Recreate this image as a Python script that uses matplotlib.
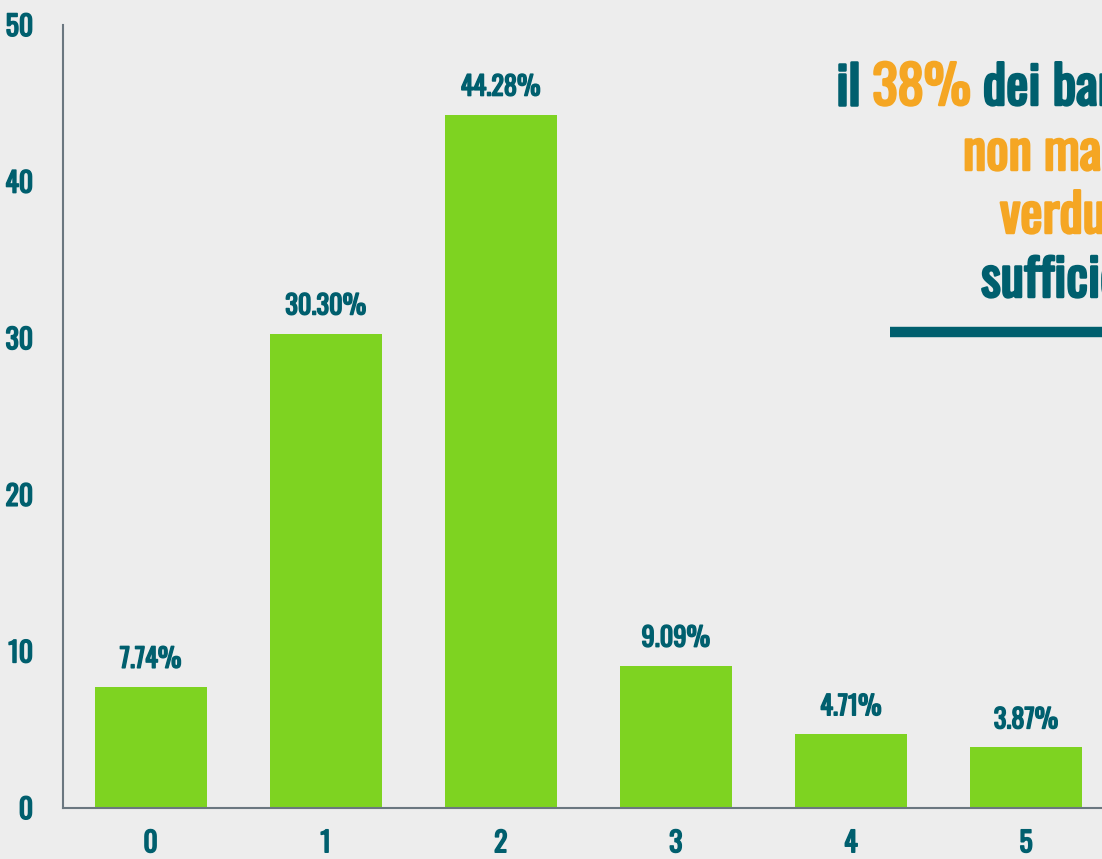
import matplotlib
matplotlib.use("Agg")
import matplotlib.pyplot as plt
import matplotlib.patheffects as pe

categories = ["0", "1", "2", "3", "4", "5"]
values = [7.74, 30.30, 44.28, 9.09, 4.71, 3.87]
labels = ["7.74%", "30.30%", "44.28%", "9.09%", "4.71%", "3.87%"]
yticks = [0, 10, 20, 30, 40, 50]

TEAL = "#005f6e"
ORANGE = "#f5a623"
GREEN = "#7ed321"
BG = "#ededed"
FONT = ["Oswald", "DejaVu Sans"]


def bold(color, lw=1.1):
    return [pe.withStroke(linewidth=lw, foreground=color)]


W, H = 1102, 859
fig = plt.figure(figsize=(W / 100, H / 100), dpi=100, facecolor=BG)

left, right = 63, 1113.5
bottom, top = 808, 25
ax = fig.add_axes([left / W, (H - bottom) / H, (right - left) / W, (bottom - top) / H])
ax.set_facecolor("none")

x = list(range(len(categories)))
ax.bar(x, values, width=0.64, color=GREEN, zorder=2)
ax.set_xlim(-0.5, 5.5)
ax.set_ylim(0, 50)

for xi, v, lab in zip(x, values, labels):
    ax.annotate(lab, (xi, v), xytext=(0, 19), textcoords="offset pixels",
                ha="center", va="baseline", color=TEAL, fontsize=19,
                family=FONT, path_effects=bold(TEAL))

ax.set_xticks(x)
ax.set_xticklabels(categories)
ax.set_yticks(yticks)
ax.set_yticklabels([str(t) for t in yticks])
ax.tick_params(axis="both", length=0, colors=TEAL, labelsize=20)
ax.tick_params(axis="x", pad=16)
ax.tick_params(axis="y", pad=21.5)
for lbl in ax.get_xticklabels() + ax.get_yticklabels():
    lbl.set_family(FONT)
    lbl.set_color(TEAL)
    lbl.set_path_effects(bold(TEAL))

for s in ["top", "right"]:
    ax.spines[s].set_visible(False)
for s in ["left", "bottom"]:
    ax.spines[s].set_color("#6b7780")
    ax.spines[s].set_linewidth(1.5)


def px(xp, yp):
    return xp / W, (H - yp) / H


fs1 = 38
kw = dict(fontsize=fs1, family=FONT, va="baseline", ha="left")
t = fig.text(*px(836, 105), "il ", color=TEAL, path_effects=bold(TEAL, 1.8), **kw)
fig.canvas.draw()
r = fig.canvas.get_renderer()
bb = t.get_window_extent(r)
t2 = fig.text(bb.x1 / W, (H - 105) / H, "38% ", color=ORANGE,
              path_effects=bold(ORANGE, 1.8), **kw)
bb2 = t2.get_window_extent(r)
fig.text(bb2.x1 / W, (H - 105) / H, "dei bambini", color=TEAL,
         path_effects=bold(TEAL, 1.8), **kw)
fig.text(*px(963, 170), "non mangia", color=ORANGE, path_effects=bold(ORANGE, 1.8), **kw)
fig.text(*px(1000, 233), "verdura", color=ORANGE, path_effects=bold(ORANGE, 1.8), **kw)
fig.text(*px(981, 297), "sufficiente", color=TEAL, path_effects=bold(TEAL, 1.8), **kw)
fig.add_artist(plt.Line2D([890 / W, 1.0], [(H - 332) / H] * 2, color=TEAL,
                          linewidth=7.5, solid_capstyle="butt", transform=fig.transFigure))

fig.savefig("out.png", dpi=100, facecolor=BG)
